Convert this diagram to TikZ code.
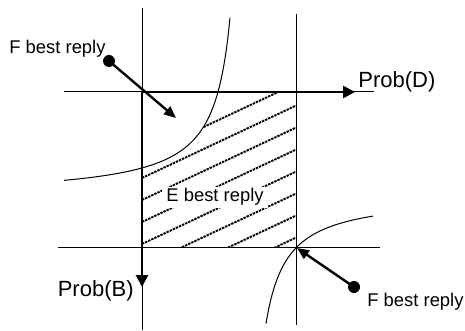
\documentclass[tikz,border=0pt]{standalone}
\usepackage{fontspec}
\setmainfont{Liberation Sans}
\usetikzlibrary{arrows.meta}

\begin{document}
\begin{tikzpicture}[x=0.5pt, y=-0.5pt,
    font=\fontsize{9.2pt}{11pt}\selectfont,
    thin line/.style={line width=0.5pt},
    axis arrow/.style={line width=1.35pt, -{Triangle[length=6pt, width=6pt]}},
    reply arrow/.style={line width=1.2pt, -{Triangle[length=6pt, width=5pt]}},
    dot/.style={circle, fill, inner sep=0pt, minimum size=6pt},
    hatch/.style={line width=0.95pt, dash pattern=on 1.2pt off 0.5pt},
    label text/.style={inner sep=0pt},
    axis text/.style={inner sep=0pt, font=\fontsize{11pt}{13pt}\selectfont}]
    \useasboundingbox (0,0) rectangle (465,331);
    % corners of the square
    \coordinate (O) at (142,92);
    \coordinate (R) at (296,92);
    \coordinate (Q) at (142,247);
    \coordinate (S) at (296,247);
    % ends of the thin lines
    \coordinate (leftTop) at (142,8);
    \coordinate (leftBot) at (142,330);
    \coordinate (rightTop) at (296,14);
    \coordinate (rightBot) at (296,325);
    \coordinate (topL) at (64,92);
    \coordinate (topR) at (374,92);
    \coordinate (botL) at (58,247);
    \coordinate (botR) at (380,247);
    \coordinate (Dtip) at (355,92);
    \coordinate (Btip) at (142,287);

    % hatched region
    \begin{scope}
      \clip (142,168) -- plot[domain=142:218, samples=40] (\x,{197-3050/(247-\x)})
        -- (R) -- (S) -- (Q) -- cycle;
      \foreach \L in {156,178,...,310}
        \draw[hatch] (142,\L) -- (296,{\L-72.4});
    \end{scope}
    \node[label text, inner xsep=2pt, inner ysep=1pt, fill=white, anchor=base] (ebest) at (215,202) {E best reply};

    \draw[thin line] (leftTop) -- (leftBot);
    \draw[thin line] (rightTop) -- (rightBot);
    \draw[thin line] (topL) -- (topR);
    \draw[thin line] (botL) -- (botR);
    \draw[axis arrow] (O) -- (Dtip);
    \draw[axis arrow] (O) -- (Btip);

    % best reply curves
    \draw[thin line] plot[domain=64:230, samples=90, smooth] (\x,{197-3050/(247-\x)});
    \draw[thin line] plot[domain=266:373, samples=90, smooth] (\x,{195+2700/(\x-245)});

    \node[axis text, anchor=base west] (probD) at (358,87.5) {Prob(D)};
    \node[axis text, anchor=base east] (probB) at (134,296) {Prob(B)};

    \node[label text, anchor=base west] (freplyA) at (9,54) {F best reply};
    \node[dot] (fdotA) at (109,61) {};
    \coordinate (fendA) at (176,118);
    \draw[reply arrow] (fdotA.center) -- (fendA);

    \node[label text, anchor=base west] (freplyB) at (367,306) {F best reply};
    \node[dot] (fdotB) at (354,287) {};
    \coordinate (fendB) at (297,248);
    \draw[reply arrow] (fdotB.center) -- (fendB);
\end{tikzpicture}
\end{document}
